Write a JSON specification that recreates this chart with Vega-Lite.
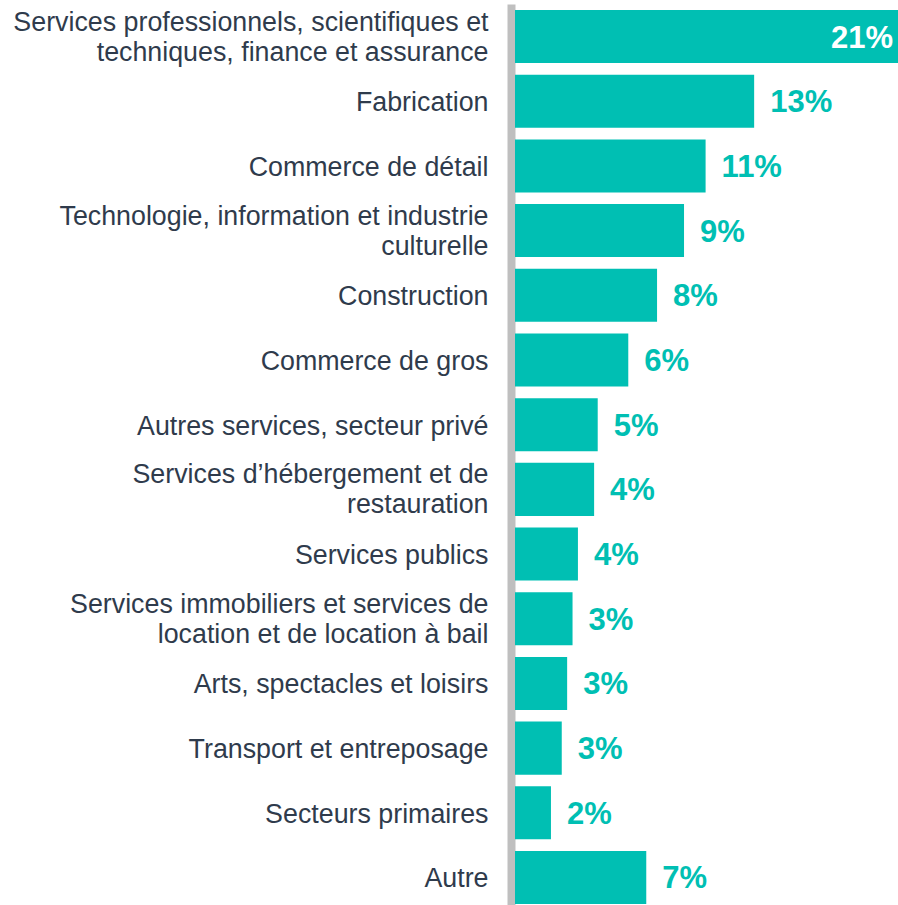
{
  "$schema": "https://vega.github.io/schema/vega-lite/v6.json",
  "autosize": {"type": "none"},
  "padding": {"left": 515, "top": 4, "right": 0, "bottom": 0},
  "width": 383,
  "height": 901,
  "background": "white",
  "config": {"view": {"stroke": null}, "font": "Liberation Sans"},
  "data": {"values": [
    {"secteur": "Services professionnels, scientifiques et|techniques, finance et assurance", "part": 21.3, "label": "21%"},
    {"secteur": "Fabrication", "part": 13.3, "label": "13%"},
    {"secteur": "Commerce de détail", "part": 10.6, "label": "11%"},
    {"secteur": "Technologie, information et industrie|culturelle", "part": 9.4, "label": "9%"},
    {"secteur": "Construction", "part": 7.9, "label": "8%"},
    {"secteur": "Commerce de gros", "part": 6.3, "label": "6%"},
    {"secteur": "Autres services, secteur privé", "part": 4.6, "label": "5%"},
    {"secteur": "Services d’hébergement et de|restauration", "part": 4.4, "label": "4%"},
    {"secteur": "Services publics", "part": 3.5, "label": "4%"},
    {"secteur": "Services immobiliers et services de|location et de location à bail", "part": 3.2, "label": "3%"},
    {"secteur": "Arts, spectacles et loisirs", "part": 2.9, "label": "3%"},
    {"secteur": "Transport et entreposage", "part": 2.6, "label": "3%"},
    {"secteur": "Secteurs primaires", "part": 2.0, "label": "2%"},
    {"secteur": "Autre", "part": 7.3, "label": "7%"}
  ]},
  "encoding": {
    "y": {
      "field": "secteur", "type": "nominal", "sort": null,
      "scale": {"paddingInner": 0.18, "paddingOuter": 0.054, "align": 0.86},
      "axis": {
        "title": null, "ticks": false, "offset": 4,
        "domainColor": "#BFBFBF", "domainWidth": 8,
        "labelExpr": "split(datum.value, '|')",
        "labelOffset": {"condition": {"test": "indexof(datum.value, '|') >= 0", "value": -14}, "value": 2},
        "labelFontSize": 26.8, "labelColor": "#2F3B4C", "labelPadding": 23,
        "labelLimit": 0, "labelLineHeight": 30, "labelFont": "Liberation Sans"
      }
    },
    "x": {"field": "part", "type": "quantitative", "scale": {"domain": [0, 21.3], "nice": false}, "axis": null}
  },
  "layer": [
    {"mark": {"type": "bar", "color": "#00BFB3"}},
    {
      "mark": {"type": "text", "align": "left", "dx": 16, "dy": 2, "fontSize": 31, "fontWeight": "bold", "color": "#00BFB3", "baseline": "middle"},
      "transform": [{"filter": "datum.part < 15"}],
      "encoding": {"text": {"field": "label"}}
    },
    {
      "mark": {"type": "text", "align": "right", "dx": -5, "dy": 2, "fontSize": 31, "fontWeight": "bold", "color": "white", "baseline": "middle"},
      "transform": [{"filter": "datum.part >= 15"}],
      "encoding": {"text": {"field": "label"}}
    }
  ]
}
